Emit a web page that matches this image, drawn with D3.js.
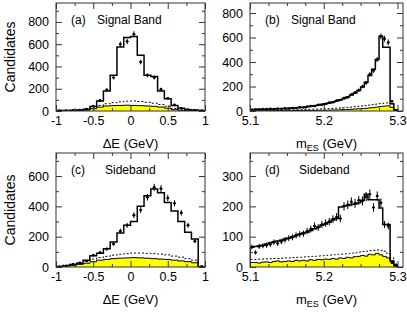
<!DOCTYPE html>
<html>
<head>
<meta charset="utf-8">
<script src="https://cdn.jsdelivr.net/npm/d3@7"></script>
<style>
  body { margin: 0; background: #fff; }
  svg text { font-family: "Liberation Sans", Arial, sans-serif; fill: #000; }
</style>
</head>
<body>
<div id="chart"></div>
<script>
// ---- data: Delta E histograms (22 bins, -1..1) ----
var deEdges = d3.range(23).map(function(i) { return -1 + i * 2 / 22; });

var sigDeHist  = [4, 5, 6, 8, 15, 40, 90, 180, 320, 575, 660, 670, 500, 320, 310, 180, 110, 50, 25, 12, 8, 5];
var sigDePts   = [3, 4, 6, 9, 18, 45, 95, 190, 300, 600, 625, 690, 440, 320, 300, 195, 115, 55, 25, 12, 7, 4];
var sigDeBkg   = [2, 2, 3, 4, 8, 20, 35, 45, 48, 50, 52, 50, 48, 45, 42, 35, 25, 12, 6, 3, 2, 2];
var sigDeTot   = [3, 4, 5, 6, 12, 28, 50, 65, 75, 82, 88, 90, 85, 78, 70, 58, 42, 22, 10, 5, 3, 3];

var sbDeHist   = [3, 8, 15, 22, 45, 75, 90, 120, 165, 225, 275, 300, 400, 470, 515, 490, 425, 370, 300, 230, 185, 0];
var sbDePts    = [2, 8, 18, 28, 40, 78, 96, 119, 152, 237, 275, 342, 376, 460, 526, 517, 455, 420, 358, 275, 170, 5];
var sbDeBkg    = [3, 8, 12, 18, 25, 35, 45, 50, 55, 58, 60, 62, 60, 58, 55, 52, 50, 45, 40, 35, 28, 0];
var sbDeTot    = [5, 12, 20, 28, 38, 52, 62, 70, 78, 84, 88, 92, 92, 90, 88, 85, 80, 72, 65, 55, 45, 0];

// ---- data: mES histograms (40 bins, 5.10..5.30) ----
var mesEdges = d3.range(41).map(function(i) { return 5.1 + i * 0.005; });

var sigMesHist = [12, 13, 14, 14, 15, 16, 17, 18, 19, 20, 22, 24, 26, 28, 31, 34, 38, 42, 47, 53,
                  60, 66, 74, 82, 92, 102, 115, 130, 148, 168, 195, 235, 290, 340, 420, 610, 520, 520, 60, 10];
var sigMesPts  = [10, 14, 12, 16, 15, 18, 15, 20, 18, 22, 20, 25, 24, 30, 29, 36, 40, 40, 50, 52,
                  58, 68, 72, 85, 90, 105, 112, 135, 150, 170, 200, 230, 300, 330, 420, 610, 590, 560, 80, 5];
var sigMesBkg  = [2, 2, 2, 2, 2, 3, 3, 3, 3, 3, 3, 4, 4, 4, 4, 5, 5, 5, 6, 6,
                  6, 7, 8, 9, 10, 11, 12, 14, 16, 18, 20, 22, 25, 28, 32, 36, 40, 42, 30, 5];
var sigMesTot  = [6, 6, 7, 7, 7, 8, 8, 8, 9, 9, 10, 10, 11, 12, 12, 13, 14, 15, 16, 17,
                  18, 19, 21, 23, 25, 27, 29, 32, 35, 38, 41, 44, 48, 52, 56, 60, 64, 66, 55, 8];

var sbMesHist  = [65, 68, 70, 72, 76, 80, 83, 86, 88, 92, 95, 100, 104, 108, 112, 115, 120, 126, 132, 138,
                  142, 148, 155, 160, 198, 200, 203, 206, 208, 212, 220, 240, 222, 222, 222, 195, 140, 140, 20, 5];
var sbMesPts   = [66, 48, 68, 70, 72, 75, 82, 78, 84, 90, 95, 98, 104, 108, 110, 118, 125, 135, 130, 140,
                  145, 150, 158, 165, 160, 200, 205, 215, 210, 220, 218, 232, 240, 196, 234, 212, 140, 135, 14, 3];
var sbMesBkg   = [15, 15, 13, 16, 17, 15, 18, 20, 17, 18, 20, 18, 22, 20, 22, 20, 24, 22, 25, 24,
                  26, 25, 28, 26, 30, 28, 32, 30, 34, 35, 38, 36, 42, 40, 45, 40, 35, 30, 20, 8];
var sbMesTot   = [25, 25, 26, 26, 27, 27, 28, 28, 29, 30, 30, 31, 32, 32, 33, 34, 35, 35, 36, 37,
                  38, 39, 40, 41, 42, 43, 44, 45, 47, 49, 51, 52, 54, 55, 56, 55, 52, 45, 30, 10];

// ---- ticks ----
var deMajor = [-1, -0.5, 0, 0.5, 1];
var deMinor = [-0.75, -0.25, 0.25, 0.75];
var mesMajor = [5.1, 5.2, 5.3];
var mesMinor = [5.125, 5.15, 5.175, 5.225, 5.25, 5.275];

var W = 407, H = 312;
var svg = d3.select("#chart").append("svg")
    .attr("width", W)
    .attr("height", H);

var panels = [
  { id: "a", label: "(a)", title: "Signal Band", kind: "de", left: 56, right: 205, top: 3, bottom: 111,
    yMax: 970, yMajor: [0, 200, 400, 600, 800], yMinor: [100, 300, 500, 700, 900],
    hist: sigDeHist, pts: sigDePts, bkg: sigDeBkg, tot: sigDeTot },
  { id: "b", label: "(b)", title: "Signal Band", kind: "mes", left: 250, right: 403, top: 3, bottom: 111,
    yMax: 882, yMajor: [0, 200, 400, 600, 800], yMinor: [100, 300, 500, 700],
    hist: sigMesHist, pts: sigMesPts, bkg: sigMesBkg, tot: sigMesTot },
  { id: "c", label: "(c)", title: "Sideband", kind: "de", left: 56, right: 205, top: 153, bottom: 267,
    yMax: 752, yMajor: [0, 200, 400, 600], yMinor: [100, 300, 500, 700],
    hist: sbDeHist, pts: sbDePts, bkg: sbDeBkg, tot: sbDeTot },
  { id: "d", label: "(d)", title: "Sideband", kind: "mes", left: 250, right: 403, top: 153, bottom: 267,
    yMax: 376, yMajor: [0, 100, 200, 300], yMinor: [50, 150, 250, 350],
    hist: sbMesHist, pts: sbMesPts, bkg: sbMesBkg, tot: sbMesTot }
];

panels.forEach(drawPanel);

function drawPanel(p) {
  var isDe = p.kind === "de";
  var edges = isDe ? deEdges : mesEdges;
  var x = d3.scaleLinear().domain(isDe ? [-1, 1] : [5.1, 5.3075]).range([p.left, p.right]);
  var y = d3.scaleLinear().domain([0, p.yMax]).range([p.bottom, p.top]);

  var g = svg.append("g").attr("class", "panel-" + p.id);

  g.append("clipPath").attr("id", "clip-" + p.id)
    .append("rect")
    .attr("x", p.left).attr("y", p.top)
    .attr("width", p.right - p.left).attr("height", p.bottom - p.top);

  var plot = g.append("g").attr("clip-path", "url(#clip-" + p.id + ")");

  function steps(vals) {
    var a = [[edges[0], 0]];
    vals.forEach(function(v, i) { a.push([edges[i], v]); });
    a.push([edges[vals.length], vals[vals.length - 1]]);
    a.push([edges[vals.length], 0]);
    return a;
  }

  var line = d3.line()
    .x(function(d) { return x(d[0]); })
    .y(function(d) { return y(d[1]); })
    .curve(d3.curveStepAfter);

  var area = d3.area()
    .x(function(d) { return x(d[0]); })
    .y0(y(0))
    .y1(function(d) { return y(d[1]); })
    .curve(d3.curveStepAfter);

  // yellow background component
  plot.append("path").datum(steps(p.bkg))
    .attr("d", area).attr("fill", "#ffff00");
  plot.append("path").datum(steps(p.bkg))
    .attr("d", line).attr("fill", "none").attr("stroke", "#000").attr("stroke-width", 1);

  // dashed total background
  plot.append("path").datum(steps(p.tot))
    .attr("d", line).attr("fill", "none").attr("stroke", "#000")
    .attr("stroke-width", 1).attr("stroke-dasharray", "2,2");

  // fit histogram
  plot.append("path").datum(steps(p.hist))
    .attr("d", line).attr("fill", "none").attr("stroke", "#000").attr("stroke-width", 1.5);

  // data points with error bars
  var centers = p.pts.map(function(v, i) { return { x: (edges[i] + edges[i + 1]) / 2, v: v }; });
  var pt = plot.selectAll(".pt").data(centers).enter().append("g").attr("class", "pt");
  pt.append("line")
    .attr("x1", function(d) { return x(d.x); })
    .attr("x2", function(d) { return x(d.x); })
    .attr("y1", function(d) { return y(d.v + Math.sqrt(d.v)); })
    .attr("y2", function(d) { return y(Math.max(0, d.v - Math.sqrt(d.v))); })
    .attr("stroke", "#000").attr("stroke-width", 1);
  pt.append("line")
    .attr("x1", function(d) { return x(d.x) - 1.5; })
    .attr("x2", function(d) { return x(d.x) + 1.5; })
    .attr("y1", function(d) { return y(d.v); })
    .attr("y2", function(d) { return y(d.v); })
    .attr("stroke", "#000").attr("stroke-width", 1);
  pt.append("circle")
    .attr("cx", function(d) { return x(d.x); })
    .attr("cy", function(d) { return y(d.v); })
    .attr("r", 1.3).attr("fill", "#000");

  // axes
  var xMajor = isDe ? deMajor : mesMajor;
  var xMinor = isDe ? deMinor : mesMinor;
  var fmt = function(d) { return String(d); };

  function styleAxis(sel) {
    sel.select(".domain").remove();
    sel.selectAll("line").attr("stroke", "#333");
    sel.selectAll("text").attr("font-size", 12.5).attr("font-family", "Liberation Sans, Arial, sans-serif");
  }

  g.append("g").attr("transform", "translate(0," + p.bottom + ")")
    .call(d3.axisBottom(x).tickValues(xMajor).tickSize(-6).tickPadding(5).tickFormat(fmt)).call(styleAxis);
  g.append("g").attr("transform", "translate(0," + p.bottom + ")")
    .call(d3.axisBottom(x).tickValues(xMinor).tickSize(-3).tickFormat("")).call(styleAxis);
  g.append("g").attr("transform", "translate(0," + p.top + ")")
    .call(d3.axisTop(x).tickValues(xMajor).tickSize(-6).tickFormat("")).call(styleAxis);
  g.append("g").attr("transform", "translate(0," + p.top + ")")
    .call(d3.axisTop(x).tickValues(xMinor).tickSize(-3).tickFormat("")).call(styleAxis);

  g.append("g").attr("transform", "translate(" + p.left + ",0)")
    .call(d3.axisLeft(y).tickValues(p.yMajor).tickSize(-6).tickPadding(7).tickFormat(fmt)).call(styleAxis);
  g.append("g").attr("transform", "translate(" + p.left + ",0)")
    .call(d3.axisLeft(y).tickValues(p.yMinor).tickSize(-3).tickFormat("")).call(styleAxis);
  g.append("g").attr("transform", "translate(" + p.right + ",0)")
    .call(d3.axisRight(y).tickValues(p.yMajor).tickSize(-6).tickFormat("")).call(styleAxis);
  g.append("g").attr("transform", "translate(" + p.right + ",0)")
    .call(d3.axisRight(y).tickValues(p.yMinor).tickSize(-3).tickFormat("")).call(styleAxis);

  // frame
  g.append("rect")
    .attr("x", p.left).attr("y", p.top)
    .attr("width", p.right - p.left).attr("height", p.bottom - p.top)
    .attr("fill", "none").attr("stroke", "#333").attr("stroke-width", 1);

  // labels in panel
  g.append("text").attr("x", p.left + 15).attr("y", p.top + 21)
    .attr("font-size", 12).text(p.label);
  g.append("text").attr("x", p.left + (p.id === "a" || p.id === "b" ? 41 : 49)).attr("y", p.top + 21)
    .attr("font-size", 12).text(p.title);

  // x axis title
  var xt = g.append("text")
    .attr("x", (p.left + p.right) / 2)
    .attr("y", p.bottom + 37)
    .attr("text-anchor", "middle")
    .attr("font-size", 13);
  if (isDe) {
    xt.text("\u0394E (GeV)");
  } else {
    xt.append("tspan").text("m");
    xt.append("tspan").attr("font-size", 9).attr("dy", 3).text("ES");
    xt.append("tspan").attr("dy", -3).text(" (GeV)");
  }

  // y axis title on left panels
  if (p.left < 100) {
    g.append("text")
      .attr("transform", "translate(15," + ((p.top + p.bottom) / 2) + ") rotate(-90)")
      .attr("text-anchor", "middle")
      .attr("font-size", 14)
      .text("Candidates");
  }
}
</script>
</body>
</html>
